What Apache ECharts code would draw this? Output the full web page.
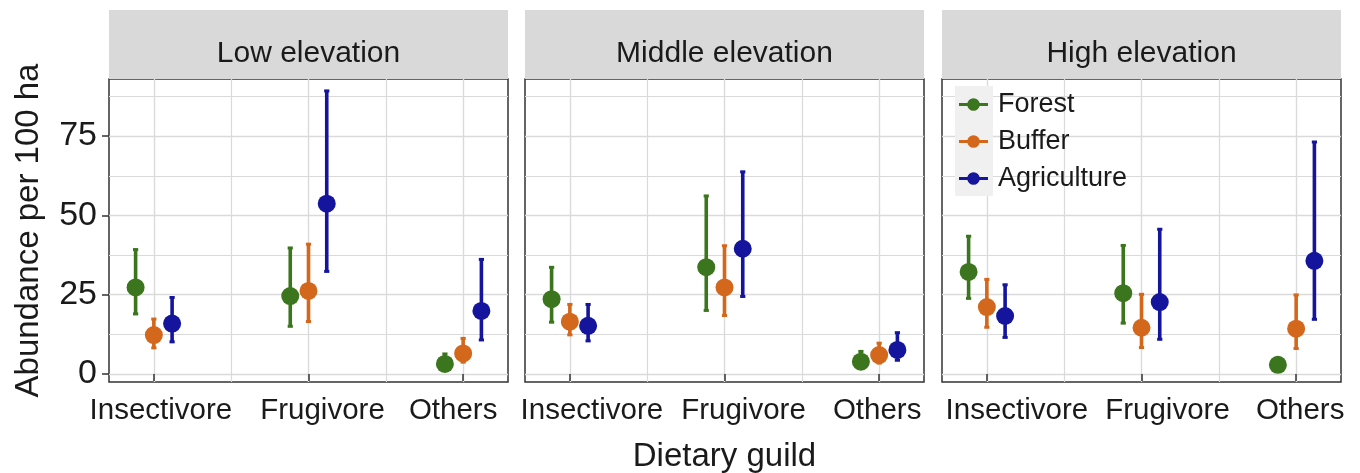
<!DOCTYPE html>
<html>
<head>
<meta charset="utf-8">
<title>Abundance by dietary guild</title>
<script src="https://cdn.jsdelivr.net/npm/echarts@6/dist/echarts.min.js"></script>
<style>
  html, body { margin: 0; padding: 0; background: #ffffff; }
  #chart { width: 1360px; height: 473px; }
</style>
</head>
<body>
<div id="chart"></div>
<script>
// ---- data -------------------------------------------------------------
const guilds = ['Insectivore', 'Frugivore', 'Others'];
const elevations = ['Low elevation', 'Middle elevation', 'High elevation'];
const habitats = ['Forest', 'Buffer', 'Agriculture'];
const yTickValues = [0, 25, 50, 75];
const yMinorValues = [12.5, 37.5, 62.5, 87.5];
const xTickValues = [1, 2, 3];
const xMinorValues = [1.5, 2.5];

// Estimated abundance per 100 ha: one row per elevation, one value per guild
const forestMean  = [[27.3, 24.6, 3.2], [23.6, 33.7, 3.9], [32.2, 25.5, 2.9]];
const forestLow   = [[18.8, 14.9, 1.5], [16.2, 19.9, 2.0], [23.7, 15.9, 2.1]];
const forestHigh  = [[39.4, 39.9, 6.5], [33.8, 56.3, 7.3], [43.6, 40.7, 3.8]];

const bufferMean  = [[12.3, 26.2, 6.5], [16.5, 27.3, 6.0], [21.1, 14.6, 14.3]];
const bufferLow   = [[8.1, 16.4, 3.6], [12.2, 18.3, 3.3], [14.6, 8.2, 7.9]];
const bufferHigh  = [[17.5, 41.1, 11.4], [22.1, 40.6, 9.9], [30.0, 25.3, 25.1]];

const agriMean    = [[15.9, 53.7, 19.9], [15.2, 39.5, 7.6], [18.3, 22.7, 35.7]];
const agriLow     = [[10.0, 32.2, 10.6], [10.3, 24.3, 4.2], [11.4, 10.8, 17.1]];
const agriHigh    = [[24.3, 89.4, 36.3], [22.1, 63.9, 13.2], [28.3, 45.8, 73.3]];

const habitatMean = [forestMean, bufferMean, agriMean];
const habitatLow  = [forestLow, bufferLow, agriLow];
const habitatHigh = [forestHigh, bufferHigh, agriHigh];

// ---- styling & layout ---------------------------------------------------
const colors = ['#3b751d', '#d3671b', '#14149c'];
const FONT = "'Liberation Sans', Arial, Helvetica, sans-serif";
const TEXT = '#1a1a1a';
const panelLeft = [109, 525, 942];
const panelWidth = 399;
const panelTop = 79;
const panelHeight = 303;
const stripTop = 10;
const xRange = [0.71, 3.29];
const yRange = [-2.5, 93];
const dodge = 0.118;
const pointRadius = 9;
// horizontal nudge (px) of each guild label so neighbouring facets don't collide
const labelNudge = [[7, 14, -10], [22, 19, -2], [30, 26, 4]];

const legendIcon = 'path://M0,7.5L30,7.5L30,10.5L0,10.5Z M15,2.5A6.5,6.5 0 1 1 14.99,2.5Z';

function errorPoint(params, api) {
  const x = api.value(0);
  const mid = api.coord([x, api.value(1)]);
  const lo = api.coord([x, api.value(2)]);
  const hi = api.coord([x, api.value(3)]);
  const color = api.visual('color');
  return {
    type: 'group',
    children: [
      { type: 'line', shape: { x1: lo[0], y1: lo[1], x2: hi[0], y2: hi[1] },
        style: { stroke: color, lineWidth: 3.6 } },
      { type: 'rect', shape: { x: hi[0] - 2.6, y: hi[1] - 1, width: 5.2, height: 3 },
        style: { fill: color } },
      { type: 'rect', shape: { x: lo[0] - 2.6, y: lo[1] - 2, width: 5.2, height: 3 },
        style: { fill: color } },
      { type: 'circle', shape: { cx: mid[0], cy: mid[1], r: pointRadius },
        style: { fill: color } }
    ]
  };
}

function labelRich(e) {
  const rich = {};
  labelNudge[e].forEach((dx, k) => {
    rich['g' + k] = {
      fontSize: 29.5, color: TEXT, fontFamily: FONT,
      padding: dx >= 0 ? [0, 0, 0, 2 * dx] : [0, -2 * dx, 0, 0]
    };
  });
  return rich;
}

const grids = [], xAxes = [], yAxes = [], series = [], graphics = [];

elevations.forEach((elev, e) => {
  grids.push({
    left: panelLeft[e], top: panelTop, width: panelWidth, height: panelHeight,
    outerBoundsMode: 'none', containLabel: false,
    show: true, backgroundColor: '#ffffff', borderColor: '#333333', borderWidth: 1.5,
    z: 0
  });

  // main x axis: guild ticks, labels and major grid lines
  xAxes.push({
    type: 'value', gridIndex: e, min: xRange[0], max: xRange[1],
    axisLine: { show: false },
    axisTick: { show: true, length: 7, customValues: xTickValues,
      lineStyle: { color: '#333333', width: 1.5 } },
    axisLabel: { show: true, customValues: xTickValues, margin: 14,
      formatter: v => {
        const k = Math.round(v) - 1;
        return '{g' + k + '|' + guilds[k] + '}';
      },
      rich: labelRich(e),
      fontSize: 29.5, color: TEXT, fontFamily: FONT },
    splitLine: { show: true, lineStyle: { color: '#dadada', width: 1.4 } },
    name: e === 1 ? 'Dietary guild' : '',
    nameLocation: 'middle', nameGap: 58,
    nameTextStyle: { fontSize: 33, color: TEXT, fontFamily: FONT }
  });
  // minor x grid lines
  xAxes.push({
    type: 'value', gridIndex: e, min: xRange[0], max: xRange[1], position: 'bottom',
    axisLine: { show: false },
    axisTick: { show: false, customValues: xMinorValues },
    axisLabel: { show: false, customValues: xMinorValues },
    splitLine: { show: true, lineStyle: { color: '#dadada', width: 1.2 } }
  });

  // main y axis
  yAxes.push({
    type: 'value', gridIndex: e, min: yRange[0], max: yRange[1],
    axisLine: { show: false },
    axisTick: { show: e === 0, length: 7, customValues: yTickValues,
      lineStyle: { color: '#333333', width: 1.5 } },
    axisLabel: { show: e === 0, customValues: yTickValues, margin: 12,
      fontSize: 34, color: TEXT, fontFamily: FONT },
    splitLine: { show: true, lineStyle: { color: '#dadada', width: 1.4 } },
    name: e === 0 ? 'Abundance per 100 ha' : '',
    nameLocation: 'middle', nameGap: 64, nameRotate: 90,
    nameTextStyle: { fontSize: 33, color: TEXT, fontFamily: FONT }
  });
  // minor y grid lines
  yAxes.push({
    type: 'value', gridIndex: e, min: yRange[0], max: yRange[1], position: 'left',
    axisLine: { show: false },
    axisTick: { show: false, customValues: yMinorValues },
    axisLabel: { show: false, customValues: yMinorValues },
    splitLine: { show: true, lineStyle: { color: '#dadada', width: 1.2 } }
  });

  habitats.forEach((hab, h) => {
    series.push({
      type: 'custom',
      name: hab,
      xAxisIndex: 2 * e,
      yAxisIndex: 2 * e,
      itemStyle: { color: colors[h] },
      renderItem: errorPoint,
      z: 5,
      data: guilds.map((g, k) => [
        k + 1 + (h - 1) * dodge,
        habitatMean[h][e][k],
        habitatLow[h][e][k],
        habitatHigh[h][e][k]
      ])
    });
  });

  // facet strip
  graphics.push({
    type: 'rect', left: panelLeft[e], top: stripTop, z: 1,
    shape: { width: panelWidth, height: panelTop - stripTop },
    style: { fill: '#d9d9d9' }
  });
  graphics.push({
    type: 'text', x: panelLeft[e] + panelWidth / 2, y: 54, z: 2,
    style: { text: elev, fill: TEXT, font: '30px ' + FONT,
      textAlign: 'center', textVerticalAlign: 'middle' }
  });
});

// gray background behind the legend keys
graphics.push({
  type: 'rect', left: 955, top: 86, z: 3,
  shape: { width: 38, height: 110 },
  style: { fill: '#f0f0f0' }
});

const option = {
  backgroundColor: '#ffffff',
  animation: false,
  textStyle: { fontFamily: FONT },
  grid: grids,
  xAxis: xAxes,
  yAxis: yAxes,
  series: series,
  graphic: graphics,
  legend: {
    orient: 'vertical', left: 954, top: 86, z: 6,
    itemWidth: 29, itemHeight: 13, itemGap: 10,
    selectedMode: false,
    textStyle: { fontSize: 27, lineHeight: 27, color: TEXT, fontFamily: FONT,
      padding: [0, 0, 0, 5] },
    data: habitats.map(n => ({ name: n, icon: legendIcon }))
  }
};

const chart = echarts.init(document.getElementById('chart'), null, { renderer: 'canvas' });
chart.setOption(option);
</script>
</body>
</html>
